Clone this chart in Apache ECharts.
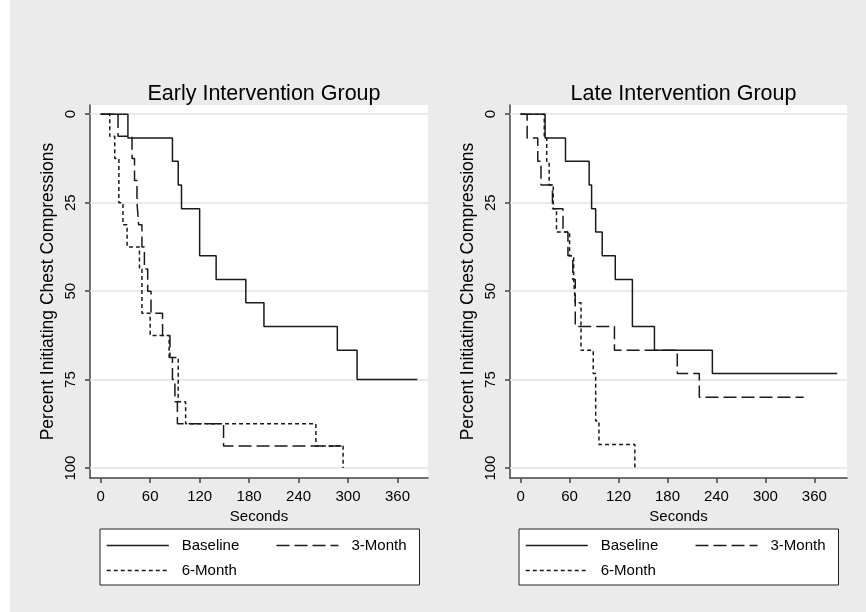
<!DOCTYPE html>
<html>
<head>
<meta charset="utf-8">
<script src="https://cdn.jsdelivr.net/npm/echarts@6/dist/echarts.min.js"></script>
<style>
html,body{margin:0;padding:0;background:#ebebeb;}
#chart{width:866px;height:612px;}
</style>
</head>
<body>
<div id="chart"></div>
<script>
// ---- data: [seconds, percent initiating] (Kaplan-Meier style steps) ----
const panelTitles = ['Early Intervention Group', 'Late Intervention Group'];
const seriesNames = ['Baseline', '3-Month', '6-Month'];
const xTicks = [0, 60, 120, 180, 240, 300, 360];
const yTicks = [0, 25, 50, 75, 100];

const earlyBaseline = [[0,0],[33,6.7],[87,13.3],[94,20],[98,26.7],[120,40],[140,46.7],[176,53.3],[198,60],[287,66.7],[311,75],[384,75]];
const earlyThreeMonth = [[0,0],[21,6.25],[38,12.5],[41,18.75],[44,25],[46,31.25],[50,37.5],[53,43.75],[57,50],[61,56.25],[75,62.5],[84,68.75],[87,75],[90,81.25],[93,87.5],[149,93.75],[294,93.75]];
const earlySixMonth = [[0,0],[11,6.25],[17,12.5],[22,25],[27,31.25],[32,37.5],[47,43.75],[50,56.25],[60,62.5],[83,68.75],[94,81.25],[103,87.5],[261,93.75],[294,100]];

const lateBaseline = [[0,0],[30,6.7],[55,13.3],[84,20],[87,26.7],[92,33.3],[100,40],[116,46.7],[137,60],[164,66.7],[235,73.3],[388,73.3]];
const lateThreeMonth = [[0,0],[8,6.7],[21,13.3],[25,20],[39,26.7],[52,33.3],[58,40],[64,46.7],[67,60],[115,66.7],[192,73.3],[219,80],[347,80]];
const lateSixMonth = [[0,0],[29,6.7],[32,13.3],[35,20],[40,26.7],[44,33.3],[60,40],[65,46.7],[67,53.3],[74,66.7],[89,73.3],[92,86.7],[96,93.3],[140,100]];

const panels = [[earlyBaseline, earlyThreeMonth, earlySixMonth], [lateBaseline, lateThreeMonth, lateSixMonth]];

// ---- styling ----
const FONT = 'Liberation Sans, Arial, Helvetica, sans-serif';
const INK = '#1a1a1a';
const dashTypes = ['solid', [13, 5], [4, 3]];
const grids = [
  {left: 90, top: 105, width: 338, height: 373},
  {left: 510, top: 105, width: 337, height: 373}
];
const xRanges = [[-13, 397], [-13, 400]];
const legendLeft = [100, 519];

const chart = echarts.init(document.getElementById('chart'), null, {renderer: 'canvas'});

const option = {
  animation: false,
  backgroundColor: '#ebebeb',
  textStyle: {fontFamily: FONT, color: '#000'},
  graphic: [
    {type: 'rect', left: 0, top: 0, shape: {width: 10, height: 612}, style: {fill: '#ffffff'}, z: -10, silent: true}
  ],
  title: panelTitles.map((t, i) => ({
    text: t,
    left: grids[i].left + grids[i].width / 2,
    textAlign: 'center',
    top: 78,
    textStyle: {fontFamily: FONT, fontSize: 21.5, fontWeight: 'normal', color: '#000'}
  })),
  grid: grids.map(g => Object.assign({show: true, backgroundColor: '#ffffff', borderWidth: 0, containLabel: false}, g)),
  xAxis: [0, 1].map(i => ({
    type: 'value',
    gridIndex: i,
    min: xRanges[i][0],
    max: xRanges[i][1],
    name: 'Seconds',
    nameLocation: 'middle',
    nameGap: 26,
    nameTextStyle: {fontFamily: FONT, fontSize: 15, color: '#000'},
    axisLine: {show: true, onZero: false, lineStyle: {color: '#444', width: 1.5}},
    axisTick: {show: true, length: 5, customValues: xTicks, lineStyle: {color: '#444', width: 1.5}},
    axisLabel: {show: true, customValues: xTicks, margin: 11, fontFamily: FONT, fontSize: 15, color: '#000'},
    splitLine: {show: false}
  })),
  yAxis: [0, 1].map(i => ({
    type: 'value',
    gridIndex: i,
    inverse: true,
    min: -2.6,
    max: 102.8,
    name: 'Percent Initiating Chest Compressions',
    nameLocation: 'middle',
    nameGap: 33,
    nameTextStyle: {fontFamily: FONT, fontSize: 17.5, color: '#000'},
    axisLine: {show: true, onZero: false, lineStyle: {color: '#444', width: 1.5}},
    axisTick: {show: true, length: 5, customValues: yTicks, lineStyle: {color: '#444', width: 1.5}},
    axisLabel: {show: true, customValues: yTicks, rotate: 90, margin: 12, fontFamily: FONT, fontSize: 15, color: '#000'},
    splitLine: {show: false}
  })),
  legend: [0, 1].map(i => ({
    left: legendLeft[i],
    top: 529,
    orient: 'horizontal',
    width: 310,
    padding: [9, 8, 7, 6],
    itemGap: 10,
    itemWidth: 62,
    itemHeight: 14,
    backgroundColor: '#ffffff',
    borderColor: '#222',
    borderWidth: 1,
    borderRadius: 0,
    selectedMode: false,
    itemStyle: {opacity: 0},
    textStyle: {fontFamily: FONT, fontSize: 15, color: '#000', lineHeight: 14, padding: [0, 0, 0, 8]},
    lineStyle: {type: 'inherit', width: 1.5},
    data: [
      {name: 'Baseline', textStyle: {width: 84}},
      {name: '3-Month', textStyle: {width: 60}},
      {name: '6-Month', textStyle: {width: 60}}
    ]
  })),
  series: []
};

[0, 1].forEach(p => {
  option.series.push({
    type: 'line', name: 'grid' + p, xAxisIndex: p, yAxisIndex: p, data: [], z: 1, silent: true,
    markLine: {
      silent: true, symbol: ['none', 'none'], animation: false, z: 1,
      label: {show: false},
      lineStyle: {color: '#e3e3e3', type: 'solid', width: 1.5},
      data: yTicks.map(v => ({yAxis: v}))
    }
  });
  panels[p].forEach((d, s) => {
    option.series.push({
      type: 'line',
      name: seriesNames[s],
      xAxisIndex: p,
      yAxisIndex: p,
      data: d,
      step: 'end',
      symbol: 'none',
      showSymbol: false,
      z: 3,
      lineStyle: {color: INK, width: 1.5, type: dashTypes[s]},
      itemStyle: {color: INK}
    });
  });
});

chart.setOption(option);
</script>
</body>
</html>
